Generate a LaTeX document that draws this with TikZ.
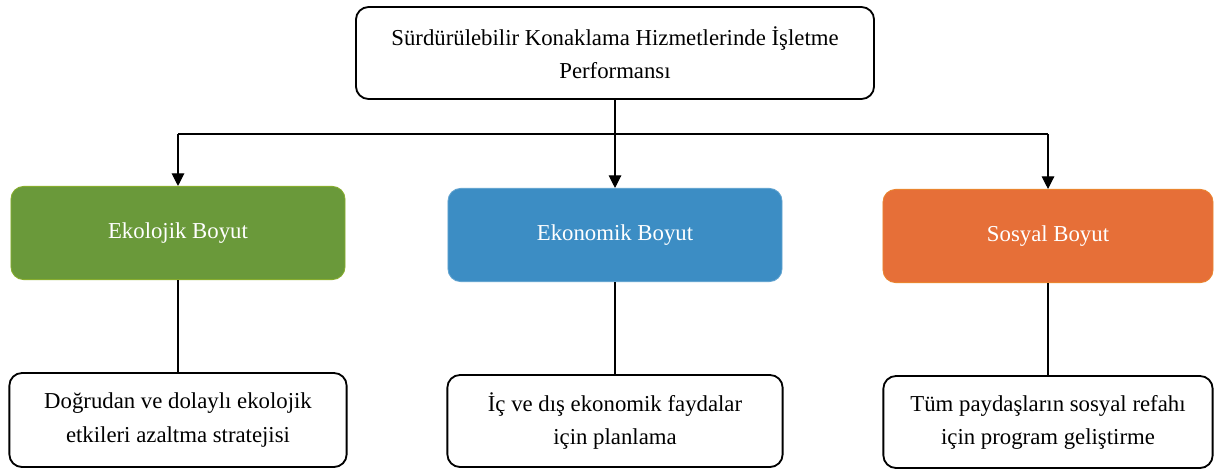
\documentclass[tikz,border=0pt]{standalone}
\usepackage{fontspec}
\setmainfont{Liberation Serif}
\usepackage{tikz}
\usetikzlibrary{shapes,arrows,positioning,calc,arrows.meta}
\usepackage{xcolor}
\definecolor{ekogreen}{RGB}{106,153,58}
\definecolor{ekoblue}{RGB}{60,141,196}
\definecolor{sosorange}{RGB}{230,111,56}

\begin{document}
\begin{tikzpicture}[x=0.025cm, y=-0.025cm,
    box/.style={draw, rounded corners=9pt, line width=1.3pt, align=center, font=\fontsize{16.2}{23.5}\selectfont},
    dim/.style={rounded corners=9pt, line width=0.6pt, minimum width=8.35cm, minimum height=2.33cm, text=white, font=\fontsize{16.2}{23.5}\selectfont},
    arr/.style={-{Triangle[length=9pt,width=9pt]}, line width=0.8pt}]
    \useasboundingbox (0,0) rectangle (1214,470);

    % Top box
    \node[box, minimum width=12.95cm, minimum height=2.3cm] (top) at (615,53) {S\"urd\"ur\"ulebilir Konaklama Hizmetlerinde \.I\c{s}letme\\Performans\i};

    % Dimension boxes
    \node[dim, draw=ekogreen!80!yellow, fill=ekogreen] (ekol) at (178,233) {Ekolojik Boyut};
    \node[dim, draw=ekoblue!80!white, fill=ekoblue] (ekon) at (615,235) {Ekonomik Boyut};
    \node[dim, draw=sosorange!85!yellow, fill=sosorange, minimum width=8.25cm] (sos) at (1048,236) {Sosyal Boyut};

    % Bottom boxes
    \node[box, minimum width=8.43cm, minimum height=2.35cm] (ekolalt) at (178,420) {Do\u{g}rudan ve dolayl\i{} ekolojik\\etkileri azaltma stratejisi};
    \node[box, minimum width=8.38cm, minimum height=2.3cm] (ekonalt) at (615,421) {\.I\c{c} ve d\i\c{s} ekonomik faydalar\\i\c{c}in planlama};
    \node[box, minimum width=8.23cm, minimum height=2.3cm] (sosalt) at (1048,422) {T\"um payda\c{s}lar\i{}n sosyal refah\i\\i\c{c}in program geli\c{s}tirme};

    % Arrows
    \coordinate (bus) at (615,134);
    \draw[line width=0.8pt] (ekol.north |- bus) -- (sos.north |- bus);
    \draw[arr] (ekol.north |- bus) -- (ekol.north);
    \draw[arr] (top.south) -- (ekon.north);
    \draw[arr] (sos.north |- bus) -- (sos.north);
    \draw[line width=0.8pt] (ekol) -- (ekolalt);
    \draw[line width=0.8pt] (ekon) -- (ekonalt);
    \draw[line width=0.8pt] (sos) -- (sosalt);

\end{tikzpicture}
\end{document}
